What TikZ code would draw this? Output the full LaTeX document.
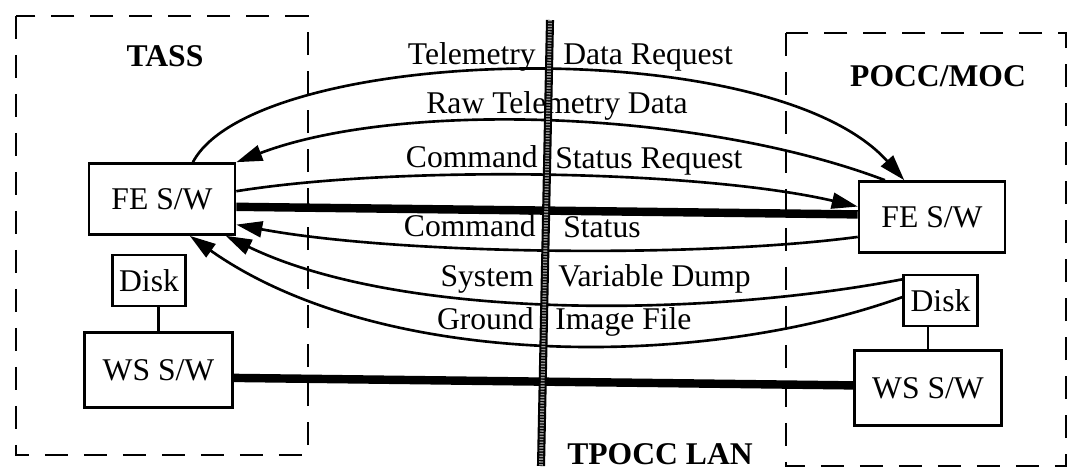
\documentclass[tikz,border=0pt]{standalone}
\usepackage{fontspec}
\setmainfont{Liberation Serif}
\usetikzlibrary{arrows.meta,positioning}

\begin{document}
\begin{tikzpicture}[x=0.02cm, y=-0.02cm, line width=1.5pt,
                    every node/.style={font=\fontsize{18}{20}\selectfont},
                    sw node/.style={draw,inner sep=0pt,minimum width=2.92cm,minimum height=1.42cm},
                    ws node/.style={draw,inner sep=0pt,minimum width=2.95cm,minimum height=1.5cm},
                    disk node/.style={draw,inner sep=0pt,minimum width=1.47cm,minimum height=1.02cm},
                    site label/.style={font=\fontsize{18}{20}\selectfont\bfseries,anchor=base},
                    msg/.style={inner sep=0pt},
                    msg arrow/.style={-{Triangle[length=0.52cm,width=0.32cm]}},
                    lan link/.style={line width=4.8pt},
                    site box/.style={line width=1.4pt,dash pattern=on 0.46cm off 0.32cm}]

  \useasboundingbox (0,0) rectangle (1077,471);

  % the two sites
  \draw[site box] (16,16) rectangle (308,455);
  \draw[site box] (786,33) rectangle (1066,466);
  \node[site label] (tass) at (165,66) {TASS};
  \node[site label] (pocc) at (938,86) {POCC/MOC};
  \node[site label] (lan) at (660,464) {TPOCC LAN};

  \node[sw node] (feL) at (162,199) {FE S/W};
  \node[ws node] (wsL) at (158.5,370) {WS S/W};
  \node[disk node] (dkL) [above=0.48cm of wsL, xshift=-0.19cm] {Disk};
  \node[sw node] (feR) at (932,217) {FE S/W};
  \node[ws node] (wsR) at (928,388) {WS S/W};
  \node[disk node] (dkR) [above=0.44cm of wsR, xshift=0.25cm] {Disk};

  % message labels
  \node[msg,anchor=base east] (tdrA) at (537,64) {Telemetry};
  \node[msg,anchor=base west] (tdrB) at (562,64) {Data Request};
  \node[msg,anchor=base] (rtd) at (557,113) {Raw Telemetry Data};
  \node[msg,anchor=base east] (csrA) at (539,167) {Command};
  \node[msg,anchor=base west] (csrB) at (554,168) {Status Request};
  \node[msg,anchor=base east] (csA) at (537,236) {Command};
  \node[msg,anchor=base west] (csB) at (562,237) {Status};
  \node[msg,anchor=base east] (svdA) at (535,286) {System};
  \node[msg,anchor=base west] (svdB) at (557,286) {Variable Dump};
  \node[msg,anchor=base east] (gifA) at (535,329) {Ground};
  \node[msg,anchor=base west] (gifB) at (554,329) {Image File};

  % messages
  \draw[msg arrow] (feL.50) .. controls (255,45) and (770,30) .. (feR.127);
  \draw[msg arrow] (feR.142) .. controls (700,110) and (400,100) .. (feL.north east);
  \draw[msg arrow] (feL.6) .. controls (400,165) and (700,170) .. (feR.172);
  \draw[msg arrow] (feR.195) .. controls (700,258) and (400,255) .. (feL.341);
  \draw[msg arrow] (dkR.151) .. controls (700,318) and (400,320) .. (feL.330);
  \draw[msg arrow] (dkR.175) .. controls (700,370) and (380,370) .. (feL.307);

  \draw (dkL.south -| wsL.north) -- (wsL.north);
  \draw (dkR.south -| wsR.north) -- (wsR.north);

  % LAN
  \draw[lan link] (feL.354) -- (feR.178);
  \draw[lan link] (wsL.354) -- (wsR.178);
  \coordinate (lanT) at (550,20);
  \coordinate (lanB) at (541,466);
  \draw[line width=4.6pt] (lanT) -- (lanB);
  \draw[line width=2.2pt,black!40,dash pattern=on 0.8pt off 0.8pt] (lanT) -- (lanB);

\end{tikzpicture}
\end{document}
